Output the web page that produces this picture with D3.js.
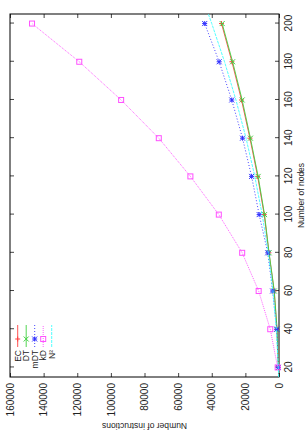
<!DOCTYPE html>
<html>
<head>
<meta charset="utf-8">
<script src="https://cdn.jsdelivr.net/npm/d3@7"></script>
<style>
  body { margin: 0; background: #fff; }
  text { font-family: "Liberation Sans", Arial, sans-serif; }
</style>
</head>
<body>
<div id="chart"></div>
<script>
// node counts on the x axis
const nodes = [20, 40, 60, 80, 100, 120, 140, 160, 180, 200];
// number of instructions per algorithm
const ecValues  = [300, 1200, 2900, 6000, 8800, 12700, 17300, 22300, 28000, 34200];
const dtValues  = [300, 1150, 2800, 5900, 8600, 12400, 17000, 21900, 27600, 33800];
const mdtValues = [400, 1400, 3800, 6700, 11800, 16300, 21700, 28100, 35600, 44200];
const kdValues  = [800, 5200, 12100, 21900, 35800, 52700, 71500, 93900, 118800, 146900];
// N^2 reference curve, drawn across the whole x range
const n2Nodes  = [15, 20, 40, 60, 80, 100, 120, 140, 160, 180, 200, 205];
const n2Values = [225, 400, 1600, 3600, 6400, 10000, 14400, 19600, 25600, 32400, 40000, 42025];

const nodeTicks = [20, 40, 60, 80, 100, 120, 140, 160, 180, 200];
const instrTicks = [0, 20000, 40000, 60000, 80000, 100000, 120000, 140000, 160000];

const series = [
    { name: "EC",  x: nodes,   y: ecValues,  color: "#ff4040", dash: null,  mark: "plus" },
    { name: "DT",  x: nodes,   y: dtValues,  color: "#40d040", dash: null,  mark: "cross" },
    { name: "mDT", x: nodes,   y: mdtValues, color: "#3030ff", dash: "1,2", mark: "star" },
    { name: "kD",  x: nodes,   y: kdValues,  color: "#ff50ff", dash: "1,1", mark: "square" },
    { name: "N\u00b2", x: n2Nodes, y: n2Values, color: "#40ffff", dash: "3,1", mark: null }
];

const W = 305, H = 436;
// the plot is drawn in gnuplot orientation and then turned a quarter left
const margin = { left: 59, right: 14, top: 10, bottom: 26 };
const LW = H, LH = W;

const svg = d3.select("#chart").append("svg")
    .attr("width", W)
    .attr("height", H);

const g = svg.append("g")
    .attr("transform", `translate(0,${H}) rotate(-90)`)
    .style("font-size", "8.5px");

const x = d3.scaleLinear()
    .domain([15, 205])
    .range([margin.left, LW - margin.right]);

const y = d3.scaleLinear()
    .domain([0, 160000])
    .range([LH - margin.bottom, margin.top]);

const x0 = x.range()[0], x1 = x.range()[1];
const y0 = y.range()[0], y1 = y.range()[1];

// bottom axis + mirrored ticks on top
g.append("g")
    .attr("transform", `translate(0,${y0})`)
    .call(d3.axisBottom(x).tickValues(nodeTicks).tickSize(-4).tickPadding(6))
    .call(a => a.select(".domain").remove());
g.append("g")
    .attr("transform", `translate(0,${y1})`)
    .call(d3.axisTop(x).tickValues(nodeTicks).tickSize(-4).tickFormat(""))
    .call(a => a.select(".domain").remove());

// left axis + mirrored ticks on the right
g.append("g")
    .attr("transform", `translate(${x0},0)`)
    .call(d3.axisLeft(y).tickValues(instrTicks).tickSize(-4).tickPadding(6).tickFormat(d3.format("d")))
    .call(a => a.select(".domain").remove());
g.append("g")
    .attr("transform", `translate(${x1},0)`)
    .call(d3.axisRight(y).tickValues(instrTicks).tickSize(-4).tickFormat(""))
    .call(a => a.select(".domain").remove());

g.selectAll(".tick text").attr("fill", "#222");
g.selectAll(".tick line").attr("stroke", "#444");

// frame
g.append("rect")
    .attr("x", x0).attr("y", y1)
    .attr("width", x1 - x0).attr("height", y0 - y1)
    .attr("fill", "none").attr("stroke", "#000").attr("stroke-width", 1);

// axis titles
g.append("text")
    .attr("x", (x0 + x1) / 2)
    .attr("y", LH - 1)
    .attr("text-anchor", "middle")
    .attr("fill", "#222")
    .text("Number of nodes");

g.append("text")
    .attr("transform", `translate(13,${(y0 + y1) / 2}) rotate(-90)`)
    .attr("text-anchor", "middle")
    .attr("fill", "#222")
    .text("Number of instructions");

function drawMark(sel, type, color) {
    const s = 2.5;
    if (type === "plus" || type === "star") {
        sel.append("path").attr("d", `M${-s},0H${s}M0,${-s}V${s}`)
            .attr("stroke", color).attr("fill", "none");
    }
    if (type === "cross" || type === "star") {
        sel.append("path").attr("d", `M${-s},${-s}L${s},${s}M${-s},${s}L${s},${-s}`)
            .attr("stroke", color).attr("fill", "none");
    }
    if (type === "square") {
        sel.append("rect").attr("x", -s).attr("y", -s).attr("width", 2 * s).attr("height", 2 * s)
            .attr("stroke", color).attr("fill", "none");
    }
}

const line = d3.line()
    .x(d => x(d[0]))
    .y(d => y(d[1]));

const plot = g.append("g");
series.forEach(s => {
    const pts = s.x.map((v, i) => [v, s.y[i]]);
    plot.append("path")
        .datum(pts)
        .attr("d", line)
        .attr("fill", "none")
        .attr("stroke", s.color)
        .attr("stroke-width", 0.9)
        .attr("stroke-dasharray", s.dash);
    if (s.mark) {
        pts.forEach(p => {
            const m = plot.append("g").attr("transform", `translate(${x(p[0])},${y(p[1])})`);
            drawMark(m, s.mark, s.color);
        });
    }
});

// legend, top-left of the plot area
const legend = g.append("g");
series.forEach((s, i) => {
    const ly = 17.7 + i * 8.5;
    const row = legend.append("g").attr("transform", `translate(0,${ly})`);
    row.append("text")
        .attr("x", 86)
        .attr("dy", "0.35em")
        .attr("text-anchor", "end")
        .attr("fill", "#222")
        .text(s.name);
    row.append("line")
        .attr("x1", 89).attr("x2", 111)
        .attr("stroke", s.color)
        .attr("stroke-width", 0.9)
        .attr("stroke-dasharray", s.dash);
    if (s.mark) {
        const m = row.append("g").attr("transform", "translate(97,0)");
        drawMark(m, s.mark, s.color);
    }
});
</script>
</body>
</html>
